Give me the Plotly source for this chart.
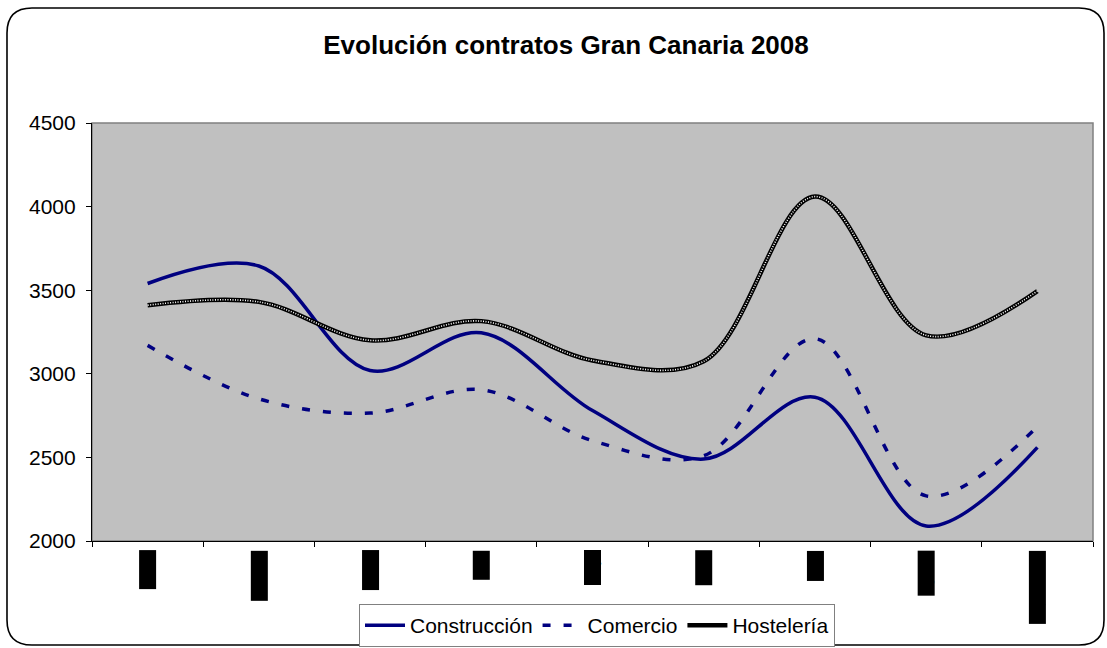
"""Evolución contratos Gran Canaria 2008: tres sectores, líneas suavizadas."""

import plotly.graph_objects as go

meses = ["Enero", "Febrero", "Marzo", "Abril", "Mayo", "Junio", "Julio", "Agosto", "Septiembre"]
construccion = [3540, 3645, 3020, 3245, 2780, 2490, 2860, 2090, 2560]
comercio = [3170, 2850, 2765, 2905, 2600, 2510, 3210, 2270, 2685]
hosteleria = [3410, 3430, 3200, 3315, 3080, 3075, 4060, 3230, 3495]
y_ticks = [2000, 2500, 3000, 3500, 4000, 4500]

W, H = 1107, 648
# área de trazado en píxeles
L, R, T, B = 92, 1093, 123, 541
NAVY = "#000080"
FONT = "Liberation Sans, Arial, sans-serif"


def px2paper(px, py):
    return (px - L) / (R - L), (B - py) / (B - T)


def rounded_border(x0, y0, x1, y1, r):
    pts = [
        ("M", (x0 + r, y0)),
        ("L", (x1 - r, y0)), ("Q", (x1, y0), (x1, y0 + r)),
        ("L", (x1, y1 - r)), ("Q", (x1, y1), (x1 - r, y1)),
        ("L", (x0 + r, y1)), ("Q", (x0, y1), (x0, y1 - r)),
        ("L", (x0, y0 + r)), ("Q", (x0, y0), (x0 + r, y0)),
    ]
    out = []
    for cmd, *ps in pts:
        coords = " ".join("{:.5f},{:.5f}".format(*px2paper(*p)) for p in ps)
        out.append(f"{cmd}{coords}")
    return " ".join(out) + " Z"


fig = go.Figure()

fig.add_trace(go.Scatter(
    x=meses, y=construccion, name="Construcción", mode="lines",
    line=dict(color=NAVY, width=3.5, shape="spline", smoothing=1.0),
))
fig.add_trace(go.Scatter(
    x=meses, y=comercio, name="Comercio", mode="lines",
    line=dict(color=NAVY, width=3.5, dash="8px,13px", shape="spline", smoothing=1.0),
))
fig.add_trace(go.Scatter(
    x=meses, y=hosteleria, name="Hostelería", mode="lines",
    line=dict(color="black", width=4.5, shape="spline", smoothing=1.0),
))
# textura blanca sobre la línea negra (patrón de Excel)
fig.add_trace(go.Scatter(
    x=meses, y=hosteleria, mode="lines", showlegend=False, hoverinfo="skip",
    line=dict(color="white", width=1.6, dash="1px,1.5px", shape="spline", smoothing=1.0),
))

# etiquetas de meses giradas (en el original aparecen como bloques negros)
for m in meses:
    fig.add_annotation(
        x=m, y=px2paper(0, 550)[1], xref="x", yref="paper",
        text=m, textangle=-90, showarrow=False,
        xanchor="center", yanchor="top",
        font=dict(family=FONT, size=14, color="black"),
        bgcolor="black", borderpad=0,
    )

fig.add_shape(
    type="path", xref="paper", yref="paper",
    path=rounded_border(7, 8, 1104, 645, 25),
    line=dict(color="black", width=1.6),
)
fig.add_shape(
    type="rect", xref="paper", yref="paper", x0=0, y0=0, x1=1, y1=1,
    line=dict(color="#808080", width=1.5), layer="below",
)

fig.update_xaxes(
    type="category", showticklabels=False, showgrid=False, zeroline=False,
    showline=True, linecolor="black", linewidth=1.2,
    ticks="outside", ticklen=5, tickcolor="black", tickson="boundaries",
    range=[-0.5, len(meses) - 0.5],
)
fig.update_yaxes(
    range=[2000, 4500], tickvals=y_ticks, showgrid=False, zeroline=False,
    showline=True, linecolor="black", linewidth=1.2,
    ticks="outside", ticklen=5, tickcolor="black", ticklabelstandoff=6,
    tickfont=dict(family=FONT, size=21, color="black"),
)

fig.update_layout(
    width=W, height=H,
    margin=dict(l=L, r=W - R, t=T, b=H - B, autoexpand=False),
    paper_bgcolor="white", plot_bgcolor="#C0C0C0",
    title=dict(
        text="<b>Evolución contratos Gran Canaria 2008</b>",
        x=566 / W, xanchor="center",
        y=1 - 45 / H, yanchor="middle",
        font=dict(family=FONT, size=26, color="black"),
    ),
    legend=dict(
        orientation="h", x=px2paper(597, 0)[0], xanchor="center",
        y=px2paper(0, 604)[1], yanchor="top",
        bgcolor="white", bordercolor="#808080", borderwidth=1,
        font=dict(family=FONT, size=21, color="black"),
        itemwidth=40,
    ),
    showlegend=True,
)

fig.write_html(
    "out.html",
    config={"displayModeBar": False},
    post_script="document.body.style.margin = '0';",
)
